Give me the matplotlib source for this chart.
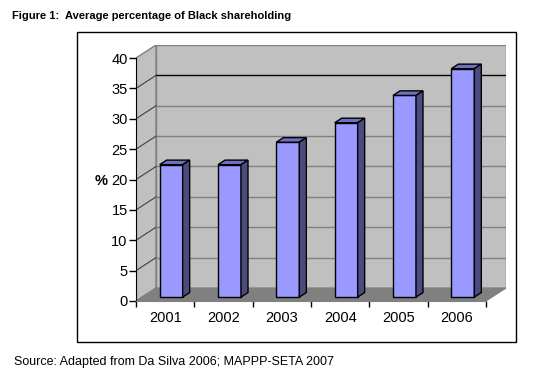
import matplotlib
matplotlib.use("Agg")
import matplotlib.pyplot as plt
from matplotlib.patches import Polygon, Rectangle
import numpy as np

plt.rcParams['font.family'] = ['Liberation Sans', 'DejaVu Sans']

years = ['2001', '2002', '2003', '2004', '2005', '2006']
share = [21.8, 21.8, 25.5, 28.7, 33.2, 37.6]
yticks = [0, 5, 10, 15, 20, 25, 30, 35, 40]

W, H = 535, 374
fig = plt.figure(figsize=(W / 100, H / 100), dpi=100)

# 3d look: depth offset of the back wall in data units
dx, dy = 0.343, 2.14
ymax = 40
n = len(years)

# axes placed so the front plane runs x 136..486 px, y 301..58 px
ax = fig.add_axes([136 / W, (H - 301) / H, 370 / W, 256 / H])
ax.set_xlim(0, n + dx)
ax.set_ylim(0, ymax + dy)
ax.set_facecolor('none')

wall = '#c0c0c0'
edge = '#808080'
# back wall
ax.add_patch(Rectangle((dx, dy), n, ymax, facecolor=wall, edgecolor=edge, lw=1, zorder=0))
# left wall
ax.add_patch(Polygon([(0, 0), (dx, dy), (dx, ymax + dy), (0, ymax)],
                     closed=True, facecolor=wall, edgecolor=edge, lw=1, zorder=0))
# floor
ax.add_patch(Polygon([(0, 0), (n, 0), (n + dx, dy), (dx, dy)],
                     closed=True, facecolor='#808080', edgecolor='#808080', lw=0.8, zorder=0))

# gridlines on the walls
for v in yticks[1:-1]:
    c = 'black' if v == 35 else '#808080'
    ax.plot([dx, n + dx], [v + dy, v + dy], color=c, lw=1, zorder=1)
    ax.plot([0, dx], [v, v + dy], color='#404040', lw=0.8, zorder=1)

# bars
f0, f1 = 0.3, 0.65
bw = 0.394
b0x, b0y = f0 * dx, f0 * dy
ddx, ddy = (f1 - f0) * dx, (f1 - f0) * dy
xs = np.arange(n) + 0.5 + b0x
ax.bar(xs, share, width=bw, bottom=b0y, color='#9999ff', edgecolor='black', lw=1, zorder=3)
for x, v in zip(xs, share):
    l, r = x - bw / 2, x + bw / 2
    top = v + b0y
    ax.add_patch(Polygon([(l, top), (r, top), (r + ddx, top + ddy), (l + ddx, top + ddy)],
                         closed=True, facecolor='#7070c0', edgecolor='black', lw=1, zorder=3))
    ax.add_patch(Polygon([(r, b0y), (r + ddx, b0y + ddy), (r + ddx, top + ddy), (r, top)],
                         closed=True, facecolor='#4b4b82', edgecolor='black', lw=1, zorder=3))

# axes
for s in ['top', 'right']:
    ax.spines[s].set_visible(False)
ax.spines['left'].set_bounds(0, ymax)
ax.spines['left'].set_color('black')
ax.spines['bottom'].set_bounds(0, n)
ax.spines['bottom'].set_color('#808080')
ax.set_yticks(yticks)
ax.set_yticklabels([str(v) for v in yticks], fontsize=10.5)
ax.tick_params(axis='y', length=5, pad=1, width=1)
ax.set_xticks(np.arange(n + 1))
ax.set_xticklabels([''] * (n + 1))
ax.set_xticks(np.arange(n) + 0.5, minor=True)
ax.set_xticklabels(years, minor=True, fontsize=10.5)
ax.tick_params(axis='x', which='major', length=4, width=1)
ax.tick_params(axis='x', which='minor', length=0, pad=7)

fig.text(101 / W, 1 - 181 / H, '%', fontsize=10.5, fontweight='bold', ha='center', va='center')

# outer chart border
fig.add_artist(Rectangle((77 / W, 1 - 342 / H), (516 - 77) / W, (342 - 32) / H,
                         transform=fig.transFigure, fill=False, edgecolor='black', lw=1))

fig.text(12 / W, 1 - 16 / H, 'Figure 1:  Average percentage of Black shareholding',
         fontsize=8, fontweight='bold', ha='left', va='center')
fig.text(14 / W, 1 - 362 / H, 'Source: Adapted from Da Silva 2006; MAPPP-SETA 2007',
         fontsize=9, ha='left', va='center')

fig.savefig('out.png', dpi=100)
